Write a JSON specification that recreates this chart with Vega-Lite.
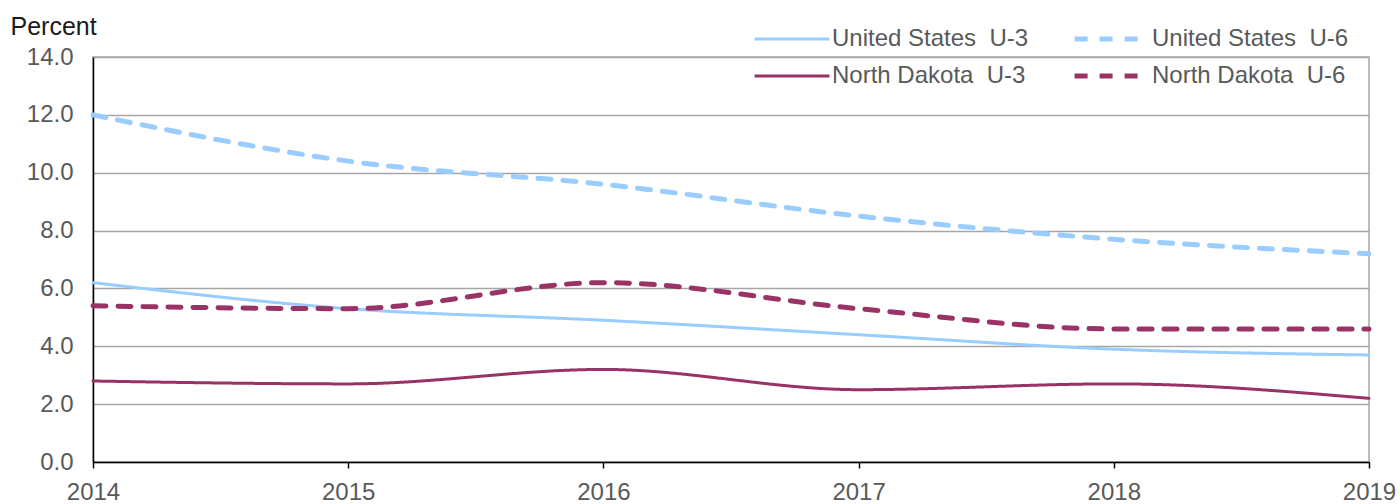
{
  "$schema": "https://vega.github.io/schema/vega-lite/v6.json",
  "autosize": "none",
  "width": 1276,
  "height": 405,
  "padding": {"left": 93, "top": 57, "right": 31, "bottom": 42},
  "background": "white",
  "config": {
    "font": "Liberation Sans",
    "view": {"stroke": "#A6A6A6", "strokeWidth": 1.5},
    "axis": {"labelFont": "Liberation Sans", "labelFontSize": 24, "labelColor": "#595959"}
  },
  "data": {
    "values": [
      {"year": 2014, "series": "United States\u00a0 U-3", "rate": 6.2},
      {"year": 2015, "series": "United States\u00a0 U-3", "rate": 5.3},
      {"year": 2016, "series": "United States\u00a0 U-3", "rate": 4.9},
      {"year": 2017, "series": "United States\u00a0 U-3", "rate": 4.4},
      {"year": 2018, "series": "United States\u00a0 U-3", "rate": 3.9},
      {"year": 2019, "series": "United States\u00a0 U-3", "rate": 3.7},
      {"year": 2014, "series": "United States\u00a0 U-6", "rate": 12.0},
      {"year": 2015, "series": "United States\u00a0 U-6", "rate": 10.4},
      {"year": 2016, "series": "United States\u00a0 U-6", "rate": 9.6},
      {"year": 2017, "series": "United States\u00a0 U-6", "rate": 8.5},
      {"year": 2018, "series": "United States\u00a0 U-6", "rate": 7.7},
      {"year": 2019, "series": "United States\u00a0 U-6", "rate": 7.2},
      {"year": 2014, "series": "North Dakota\u00a0 U-3", "rate": 2.8},
      {"year": 2015, "series": "North Dakota\u00a0 U-3", "rate": 2.7},
      {"year": 2016, "series": "North Dakota\u00a0 U-3", "rate": 3.2},
      {"year": 2017, "series": "North Dakota\u00a0 U-3", "rate": 2.5},
      {"year": 2018, "series": "North Dakota\u00a0 U-3", "rate": 2.7},
      {"year": 2019, "series": "North Dakota\u00a0 U-3", "rate": 2.2},
      {"year": 2014, "series": "North Dakota\u00a0 U-6", "rate": 5.4},
      {"year": 2015, "series": "North Dakota\u00a0 U-6", "rate": 5.3},
      {"year": 2016, "series": "North Dakota\u00a0 U-6", "rate": 6.2},
      {"year": 2017, "series": "North Dakota\u00a0 U-6", "rate": 5.3},
      {"year": 2018, "series": "North Dakota\u00a0 U-6", "rate": 4.6},
      {"year": 2019, "series": "North Dakota\u00a0 U-6", "rate": 4.6}
    ]
  },
  "mark": {"type": "line", "interpolate": "monotone", "clip": false, "strokeCap": "round"},
  "encoding": {
    "x": {
      "field": "year", "type": "quantitative",
      "scale": {"domain": [2014, 2019], "nice": false, "zero": false},
      "axis": {
        "values": [2014, 2015, 2016, 2017, 2018, 2019], "format": "d", "title": null,
        "grid": false, "domainColor": "#000000", "domainWidth": 1.5,
        "tickColor": "#000000", "tickSize": 6, "tickWidth": 1.5,
        "labelFlush": false, "labelOverlap": false, "labelPadding": 12
      }
    },
    "y": {
      "field": "rate", "type": "quantitative",
      "scale": {"domain": [0, 14], "nice": false},
      "axis": {
        "values": [0, 2, 4, 6, 8, 10, 12, 14], "format": ".1f",
        "grid": true, "gridColor": "#A6A6A6", "gridWidth": 1.5,
        "domainColor": "#000000", "domainWidth": 1.5,
        "ticks": false, "tickSize": 0, "labelPadding": 20,
        "title": "Percent", "titleAngle": 0, "titleAlign": "left", "titleBaseline": "alphabetic",
        "titleX": -83, "titleY": -23, "titleFont": "Liberation Sans", "titleFontSize": 25,
        "titleFontWeight": "normal", "titleColor": "#1a1a1a"
      }
    },
    "color": {
      "field": "series", "type": "nominal",
      "scale": {
        "domain": ["United States\u00a0 U-3", "North Dakota\u00a0 U-3", "United States\u00a0 U-6", "North Dakota\u00a0 U-6"],
        "range": ["#99CCFF", "#993366", "#99CCFF", "#993366"]
      },
      "legend": {
        "orient": "none", "legendX": 659, "legendY": -30, "columns": 2, "title": null,
        "symbolType": "stroke", "symbolSize": 5600, "symbolStrokeWidth": 3.5,
        "labelFont": "Liberation Sans", "labelFontSize": 24, "labelColor": "#595959",
        "labelOffset": 0, "columnPadding": 43, "rowPadding": 13, "padding": 0,
        "clipHeight": 24, "labelLimit": 400
      }
    },
    "strokeDash": {
      "field": "series", "type": "nominal",
      "scale": {
        "domain": ["United States\u00a0 U-3", "North Dakota\u00a0 U-3", "United States\u00a0 U-6", "North Dakota\u00a0 U-6"],
        "range": [[1, 0], [1, 0], [13, 12], [13, 12]]
      },
      "legend": null
    },
    "strokeWidth": {
      "field": "series", "type": "nominal",
      "scale": {
        "type": "ordinal",
        "domain": ["United States\u00a0 U-3", "North Dakota\u00a0 U-3", "United States\u00a0 U-6", "North Dakota\u00a0 U-6"],
        "range": [3, 3, 5, 5]
      },
      "legend": null
    }
  }
}
